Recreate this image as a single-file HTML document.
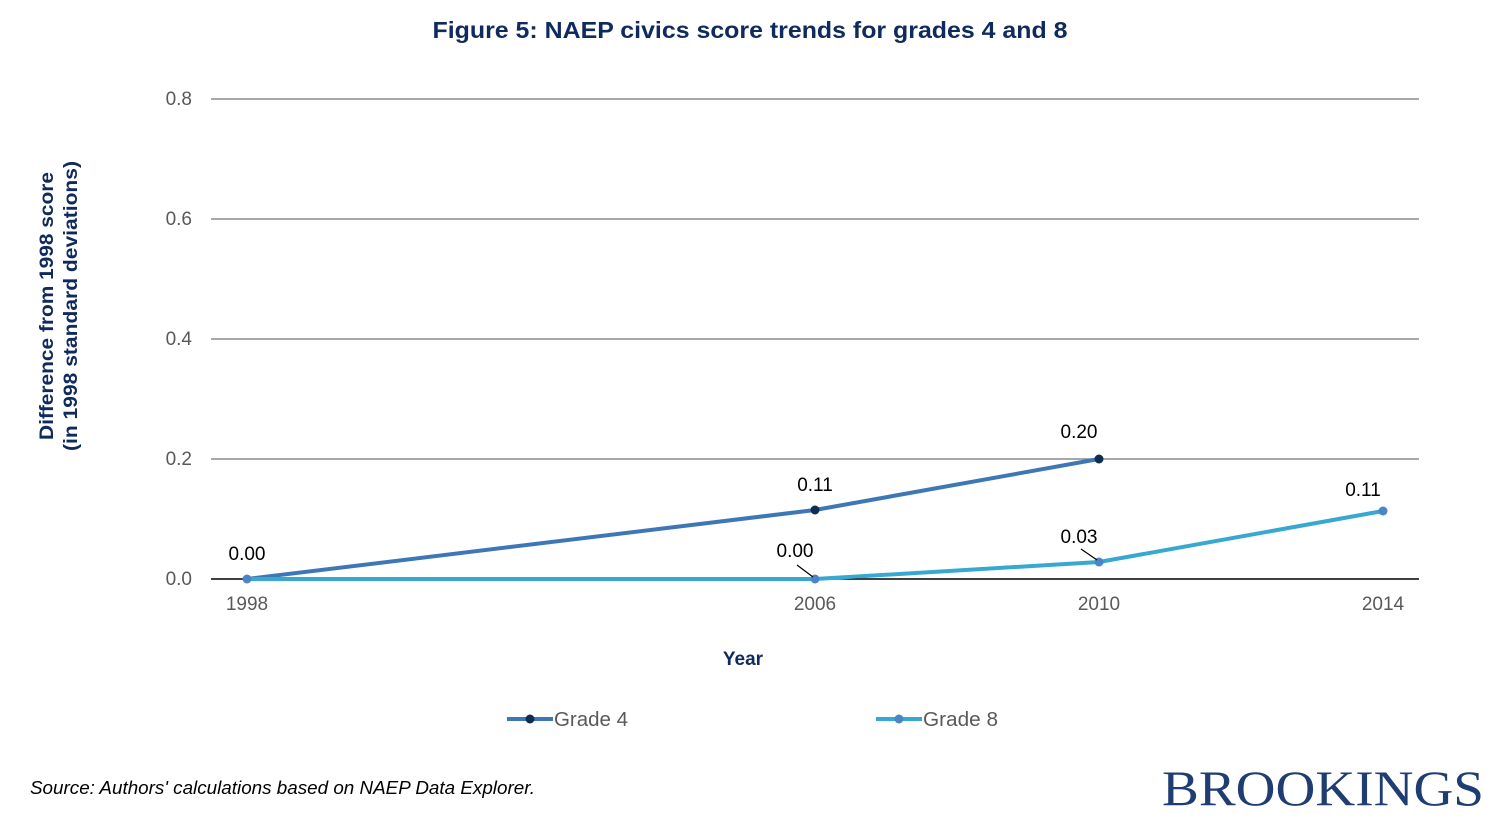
<!DOCTYPE html>
<html><head><meta charset="utf-8"><style>
html,body{margin:0;padding:0;background:#fff;}
svg{display:block;}
</style></head><body>
<svg width="1500" height="825" viewBox="0 0 1500 825" xmlns="http://www.w3.org/2000/svg" font-family="Liberation Sans, Arial, sans-serif">
<rect width="1500" height="825" fill="#fff"/>
<text x="750" y="38" text-anchor="middle" font-size="23" font-weight="bold" fill="#0f2a5c" textLength="635" lengthAdjust="spacingAndGlyphs">Figure 5: NAEP civics score trends for grades 4 and 8</text>
<g stroke="#8c8c8c" stroke-width="1.5">
<line x1="211" y1="99" x2="1419" y2="99"/>
<line x1="211" y1="219" x2="1419" y2="219"/>
<line x1="211" y1="339" x2="1419" y2="339"/>
<line x1="211" y1="459" x2="1419" y2="459"/>
</g>
<line x1="211" y1="579" x2="1419" y2="579" stroke="#000" stroke-width="1.5"/>
<g font-size="19" fill="#595959" text-anchor="end">
<text x="192" y="105">0.8</text><text x="192" y="225">0.6</text><text x="192" y="345">0.4</text><text x="192" y="465">0.2</text><text x="192" y="585">0.0</text>
</g>
<g font-size="19" fill="#595959" text-anchor="middle">
<text x="247" y="610">1998</text><text x="815" y="610">2006</text><text x="1099" y="610">2010</text><text x="1383" y="610">2014</text>
</g>
<text x="743" y="665" text-anchor="middle" font-size="19" font-weight="bold" fill="#0f2a5c">Year</text>
<text transform="translate(53,306) rotate(-90)" text-anchor="middle" font-size="19" font-weight="bold" fill="#0f2a5c" textLength="268" lengthAdjust="spacingAndGlyphs">Difference from 1998 score</text>
<text transform="translate(77,306) rotate(-90)" text-anchor="middle" font-size="19" font-weight="bold" fill="#0f2a5c" textLength="290" lengthAdjust="spacingAndGlyphs">(in 1998 standard deviations)</text>
<polyline points="247,579 815,510 1099,459" fill="none" stroke="#3e77b6" stroke-width="4"/>
<polyline points="247,579 815,579 1099,562 1383,511" fill="none" stroke="#38a8d0" stroke-width="4"/>
<g fill="#0f2d52"><circle cx="815" cy="510" r="4.5"/><circle cx="1099" cy="459" r="4.5"/></g>
<g fill="#4a86c5"><circle cx="247" cy="579" r="4.5"/><circle cx="815" cy="579" r="4.5"/><circle cx="1099" cy="562" r="4.5"/><circle cx="1383" cy="511" r="4.5"/></g>
<g stroke="#000" stroke-width="1.2"><line x1="797" y1="565" x2="813" y2="577"/><line x1="1081" y1="549" x2="1097" y2="560"/></g>
<g font-size="19" fill="#000" text-anchor="middle">
<text x="247" y="560">0.00</text><text x="815" y="491">0.11</text><text x="1079" y="438">0.20</text>
<text x="795" y="557">0.00</text><text x="1079" y="543">0.03</text><text x="1363" y="496">0.11</text>
</g>
<line x1="507" y1="719" x2="553" y2="719" stroke="#3e77b6" stroke-width="4"/><circle cx="530" cy="719" r="4.5" fill="#0f2d52"/>
<text x="554" y="726" font-size="20" fill="#595959" textLength="74" lengthAdjust="spacingAndGlyphs">Grade 4</text>
<line x1="876" y1="719" x2="922" y2="719" stroke="#38a8d0" stroke-width="4"/><circle cx="899" cy="719" r="4.5" fill="#4a86c5"/>
<text x="923" y="726" font-size="20" fill="#595959" textLength="75" lengthAdjust="spacingAndGlyphs">Grade 8</text>
<text x="30" y="794" font-size="18" font-style="italic" fill="#000" textLength="505" lengthAdjust="spacingAndGlyphs">Source: Authors' calculations based on NAEP Data Explorer.</text>
<text x="1484" y="805" text-anchor="end" font-family="Liberation Serif, serif" font-size="50" fill="#1f3d73" textLength="322" lengthAdjust="spacingAndGlyphs">BROOKINGS</text>
</svg>
</body></html>
